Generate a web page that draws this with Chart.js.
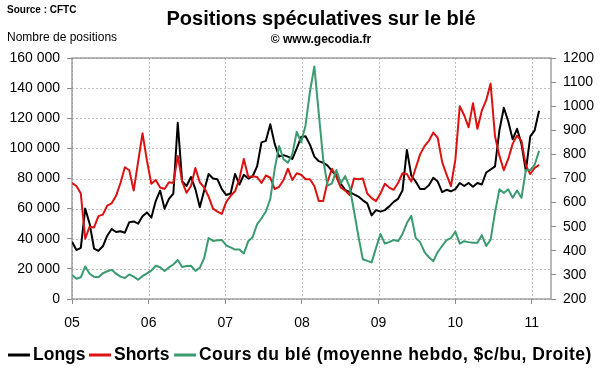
<!DOCTYPE html>
<html lang="fr">
<head>
<meta charset="UTF-8">
<title>Positions spéculatives sur le blé</title>
<script src="https://cdn.jsdelivr.net/npm/chart.js"></script>
<style>
  html, body { margin: 0; padding: 0; background: #fff; }
</style>
</head>
<body>
<canvas id="ble" width="600" height="372"></canvas>
<script>
// Un point toutes les 3 semaines, depuis début janvier 2005
const startYear = 2005;
const stepWeeks = 3;
const yearTicks = [2005, 2006, 2007, 2008, 2009, 2010, 2011];
const yearLabels = ['05', '06', '07', '08', '09', '10', '11'];

// Nombre de positions (milliers)
const longs = [
  38, 32.5, 34, 60, 50, 33.5, 32, 35, 42, 46.5,
  44.5, 45, 44, 51, 51.5, 50, 55, 57.5, 54, 65,
  72, 60, 66.5, 70, 117, 78, 75, 81, 73, 61,
  72, 83, 80, 79.5, 73, 69, 70, 83, 76, 82.5,
  80, 81.5, 88, 104, 105, 116, 103, 94.5, 95.5, 94.5,
  93, 100, 107.5, 108, 102.5, 94.5, 91.5, 90.5, 88.5, 85,
  82, 76.5, 72.5, 71, 69.5, 68, 65.5, 63.5, 55.5, 59,
  58, 59, 61.5, 64.5, 66.5, 72, 99, 82, 78, 73,
  73, 75.5, 80.5, 78, 71, 72.5, 71.5, 73, 77, 75,
  77, 74.5, 77, 76, 84, 86, 88, 112, 127, 118,
  106, 113, 103, 85, 108, 112, 125
];
const shorts = [
  77, 75, 70, 40, 48, 47.5, 55, 56, 62, 63.5,
  68.5, 77, 87.5, 85.5, 72, 91, 110, 92, 76.5, 79,
  74, 73, 77.5, 77, 95, 78, 70.5, 75, 87, 77.5,
  74, 68, 60, 58, 56.5, 64.5, 68.5, 71.5, 80, 93,
  81, 81.5, 81, 77, 82, 80.5, 73, 74.5, 79, 86.5,
  79, 83.5, 82.5, 79.5, 79.5, 75, 65, 65, 78, 86.5,
  81, 74, 72, 69, 80, 79.5, 80, 70, 67, 65,
  70, 76.5, 74, 72.5, 77, 83.5, 83, 78, 87, 96,
  101.5, 105, 110.5, 107, 91, 82.5, 75, 92.5, 128, 122,
  114, 130, 113, 125, 132, 143, 108, 95, 85.5, 93,
  103, 108.5, 105, 88.5, 83, 87, 89
];
// Cours du blé, $c/bu (axe de droite)
const cours = [
  300, 284, 290, 335, 305, 292, 290, 307, 315, 321,
  305, 293, 287, 302, 293, 280, 295, 306, 318, 338,
  332, 316, 331, 343, 362, 333, 337, 338, 317, 329,
  370, 453, 441, 444, 445, 422, 414, 405, 405, 389,
  440, 457, 510, 535, 563, 615, 740, 835, 780, 766,
  800, 894, 850, 920, 1060, 1165, 970, 780, 670, 680,
  735, 680, 710, 665, 565, 460, 365, 358, 352, 412,
  470, 430, 436, 445, 440, 470, 515, 545, 453, 436,
  395, 373, 357, 395, 420, 444, 453, 480, 430, 440,
  436, 433, 433, 465, 420, 446, 560, 655, 640, 655,
  620, 650, 620, 735, 735, 757, 815
];

const FONT = "'Liberation Sans', Arial, sans-serif";
Chart.defaults.font.family = FONT;
Chart.defaults.color = '#000';

function toPoints(values) {
  return values.map((v, i) => ({ x: startYear + i * stepWeeks * 7 / 365.25, y: v }));
}

const legendItems = [
  { text: 'Longs', color: '#000000', x: 8 },
  { text: 'Shorts', color: '#dd1111', x: 89 },
  { text: 'Cours du blé (moyenne hebdo, $c/bu, Droite)', color: '#3b9b70', x: 174, spacing: '0.45px' }
];

// grille pointillée, cadre, titres et légende
const decor = {
  id: 'decor',
  beforeDatasetsDraw(chart) {
    const { ctx, chartArea: a, scales } = chart;
    ctx.save();
    ctx.strokeStyle = '#c0c0c0';
    ctx.lineWidth = 1;
    ctx.setLineDash([2, 2]);
    scales.x.ticks.forEach(t => {
      const px = Math.round(scales.x.getPixelForValue(t.value)) + 0.5;
      ctx.beginPath(); ctx.moveTo(px, a.top); ctx.lineTo(px, a.bottom); ctx.stroke();
    });
    scales.y.ticks.forEach(t => {
      const py = Math.round(scales.y.getPixelForValue(t.value)) + 0.5;
      ctx.beginPath(); ctx.moveTo(a.left, py); ctx.lineTo(a.right, py); ctx.stroke();
    });
    ctx.setLineDash([]);
    ctx.strokeStyle = '#8a8a8a';
    ctx.lineWidth = 1.2;
    ctx.strokeRect(a.left, a.top, a.right - a.left, a.bottom - a.top);
    ctx.restore();
  },
  afterDraw(chart) {
    const ctx = chart.ctx;
    ctx.save();
    ctx.fillStyle = '#000';
    ctx.textBaseline = 'middle';
    ctx.textAlign = 'center';
    ctx.font = 'bold 20px ' + FONT;
    ctx.fillText('Positions spéculatives sur le blé', 321, 19);
    ctx.font = 'bold 12px ' + FONT;
    ctx.fillText('© www.gecodia.fr', 321, 40);
    ctx.textAlign = 'left';
    ctx.font = 'bold 10px ' + FONT;
    ctx.fillText('Source : CFTC', 7, 10);
    ctx.font = '12px ' + FONT;
    ctx.fillText('Nombre de positions', 7, 38);

    // légende
    ctx.font = 'bold 17.5px ' + FONT;
    const y = 355;
    legendItems.forEach(it => {
      ctx.strokeStyle = it.color;
      ctx.lineWidth = 3;
      ctx.beginPath();
      ctx.moveTo(it.x, y);
      ctx.lineTo(it.x + 22, y);
      ctx.stroke();
      ctx.letterSpacing = it.spacing || '0px';
      ctx.fillStyle = '#000';
      ctx.fillText(it.text, it.x + 25, y);
    });
    ctx.restore();
  }
};

const gridCommon = {
  drawOnChartArea: false,
  tickColor: '#8a8a8a',
  tickLength: 5
};

new Chart(document.getElementById('ble'), {
  type: 'line',
  data: {
    datasets: [
      { label: 'Longs', data: toPoints(longs), borderColor: '#000000', order: 2 },
      { label: 'Shorts', data: toPoints(shorts), borderColor: '#dd1111', order: 1 },
      { label: 'Cours du blé', data: toPoints(cours), borderColor: '#3b9b70', yAxisID: 'y1', order: 0 }
    ]
  },
  options: {
    responsive: false,
    animation: false,
    layout: { padding: { top: 58, left: 0, right: 0, bottom: 0 } },
    elements: {
      point: { radius: 0 },
      line: { borderWidth: 2, tension: 0, borderJoinStyle: 'round' }
    },
    plugins: { legend: { display: false }, tooltip: { enabled: false } },
    scales: {
      x: {
        type: 'linear',
        min: 2005,
        max: 2011.25,
        afterBuildTicks: s => { s.ticks = yearTicks.map(v => ({ value: v })); },
        afterFit: s => { s.height = 73; },
        ticks: {
          font: { size: 14 },
          padding: 11,
          callback: v => yearLabels[yearTicks.indexOf(v)]
        },
        grid: gridCommon,
        border: { display: false }
      },
      y: {
        position: 'left',
        min: 0,
        max: 160,
        afterFit: s => { s.width = 72; },
        ticks: {
          stepSize: 20,
          font: { size: 14 },
          padding: 7,
          callback: v => v === 0 ? '0' : v + ' 000'
        },
        grid: gridCommon,
        border: { display: false }
      },
      y1: {
        position: 'right',
        min: 200,
        max: 1200,
        afterFit: s => { s.width = 49; },
        ticks: { stepSize: 100, font: { size: 14 }, padding: 7, callback: v => String(v) },
        grid: gridCommon,
        border: { display: false }
      }
    }
  },
  plugins: [decor]
});
</script>
</body>
</html>
